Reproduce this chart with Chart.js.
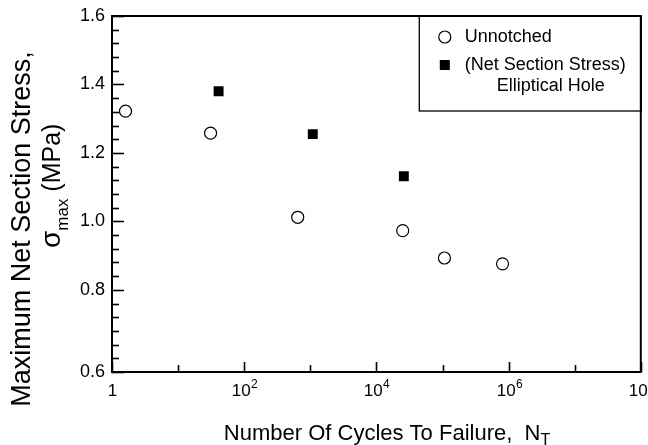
<!DOCTYPE html>
<html lang="en">
<head>
  <meta charset="UTF-8">
  <title>Fatigue life</title>
  <script src="https://cdn.jsdelivr.net/npm/chart.js"></script>
  <style>
    html, body { margin: 0; padding: 0; background: #fff; }
    #wrap { width: 648px; height: 445px; }
  </style>
</head>
<body>
  <div id="wrap"><canvas id="grafico"></canvas></div>
<script>
  // cycles to failure and max net section stress (MPa)
  var ciclosSemEntalhe = [1.6, 31, 645, 2.5e4, 1.07e5, 8.1e5]
  var tensaoSemEntalhe = [1.322, 1.258, 1.012, 0.973, 0.893, 0.876]

  var ciclosFuro = [41, 1090, 2.6e4]
  var tensaoFuro = [1.38, 1.255, 1.132]

  // axis ticks (x labels as base + exponent)
  var xTicks = [1, 10, 1e2, 1e3, 1e4, 1e5, 1e6, 1e7, 1e8]
  var xTickLabels = { 1: ['1', ''], 100: ['10', '2'], 10000: ['10', '4'], 1000000: ['10', '6'], 100000000: ['10', '8'] }
  var yMin = 0.56
  var yMax = 1.6
  var yMinorStep = 0.04
  var yLabelTicks = [0.56, 0.8, 1.0, 1.2, 1.4, 1.6]

  var FONTE = '"Liberation Sans", Arial, Helvetica, sans-serif'

  function pontos(xs, ys) {
    var lista = []
    for (var i = 0; i < xs.length; i++) {
      lista.push({ x: xs[i], y: ys[i] })
    }
    return lista
  }

  function ehRotulado(v) {
    return yLabelTicks.some(function (t) { return Math.abs(t - v) < 1e-6 })
  }

  // inward tick marks, frame, x labels, axis titles and boxed legend
  const molduraPlugin = {
    id: 'moldura',
    afterDraw(chart) {
      const ctx = chart.ctx
      const area = chart.chartArea
      const sx = chart.scales.x
      const sy = chart.scales.y

      ctx.save()
      ctx.strokeStyle = '#000'
      ctx.fillStyle = '#000'

      // ticks + power-of-ten labels on x
      ctx.lineWidth = 1.6
      sx.ticks.forEach(function (t) {
        const px = Math.round(sx.getPixelForValue(t.value)) + 0.5
        const rot = xTickLabels[t.value]
        const len = rot ? 10 : 7
        ctx.beginPath()
        ctx.moveTo(px, area.bottom)
        ctx.lineTo(px, area.bottom - len)
        ctx.stroke()
        if (rot) {
          ctx.textBaseline = 'alphabetic'
          ctx.textAlign = 'left'
          ctx.font = '17px ' + FONTE
          const wb = ctx.measureText(rot[0]).width
          ctx.font = '12px ' + FONTE
          const we = rot[1] ? ctx.measureText(rot[1]).width : 0
          const x0 = px - (wb + we) / 2
          ctx.font = '17px ' + FONTE
          ctx.fillText(rot[0], x0, area.bottom + 24)
          if (rot[1]) {
            ctx.font = '12px ' + FONTE
            ctx.fillText(rot[1], x0 + wb + 0.5, area.bottom + 16)
          }
        }
      })

      // ticks on y
      sy.ticks.forEach(function (t) {
        const py = Math.round(sy.getPixelForValue(t.value)) + 0.5
        const len = ehRotulado(t.value) ? 12 : 7
        ctx.beginPath()
        ctx.moveTo(area.left, py)
        ctx.lineTo(area.left + len, py)
        ctx.stroke()
      })

      // frame
      ctx.lineWidth = 2
      ctx.strokeRect(area.left, area.top, area.right - area.left, area.bottom - area.top)

      ctx.textBaseline = 'alphabetic'

      // x title with subscript
      const tx1 = 'Number Of Cycles To Failure,  N'
      const tx2 = 'T'
      ctx.font = '22px ' + FONTE
      const w1 = ctx.measureText(tx1).width
      ctx.font = '16px ' + FONTE
      const w2 = ctx.measureText(tx2).width
      const inicio = 387 - (w1 + w2) / 2
      ctx.font = '22px ' + FONTE
      ctx.textAlign = 'left'
      ctx.fillText(tx1, inicio, 440)
      ctx.font = '16px ' + FONTE
      ctx.fillText(tx2, inicio + w1, 445)

      // y title, two lines, rotated
      ctx.save()
      ctx.translate(30, 229)
      ctx.rotate(-Math.PI / 2)
      ctx.font = '27px ' + FONTE
      ctx.textAlign = 'center'
      ctx.fillText('Maximum Net Section Stress,', 0, 0)
      ctx.restore()

      ctx.save()
      ctx.translate(60, 248)
      ctx.rotate(-Math.PI / 2)
      ctx.textAlign = 'left'
      ctx.font = '28px ' + FONTE
      const ws = ctx.measureText('σ').width
      ctx.fillText('σ', 0, 0)
      ctx.font = '17px ' + FONTE
      const wm = ctx.measureText('max').width
      ctx.fillText('max', ws, 8)
      ctx.font = '25px ' + FONTE
      ctx.fillText(' (MPa)', ws + wm, 0)
      ctx.restore()

      // legend box
      const lx = area.right - 222
      const ly = area.top
      ctx.lineWidth = 1.3
      ctx.strokeRect(lx + 0.5, ly, 222, 95)

      const ds = chart.data.datasets
      ctx.font = '18px ' + FONTE
      ctx.textAlign = 'left'
      ctx.textBaseline = 'middle'

      ctx.beginPath()
      ctx.arc(lx + 26, ly + 21, 6, 0, Math.PI * 2)
      ctx.fillStyle = '#fff'
      ctx.fill()
      ctx.lineWidth = 1.2
      ctx.stroke()
      ctx.fillStyle = '#000'
      ctx.fillText(ds[0].label, lx + 46, ly + 21)

      ctx.fillRect(lx + 21, ly + 44, 10, 10)
      ctx.fillText(ds[1].label[0], lx + 46, ly + 49)
      ctx.fillText(ds[1].label[1], lx + 78, ly + 70)

      ctx.restore()
    }
  }

  const dados = {
    datasets: [{
      label: 'Unnotched',
      data: pontos(ciclosSemEntalhe, tensaoSemEntalhe),
      pointStyle: 'circle',
      pointRadius: 6,
      pointBackgroundColor: '#fff',
      pointBorderColor: '#000',
      pointBorderWidth: 1.2,
      showLine: false
    }, {
      label: ['(Net Section Stress)', 'Elliptical Hole'],
      data: pontos(ciclosFuro, tensaoFuro),
      pointStyle: 'rect',
      pointRadius: 7,
      pointBackgroundColor: '#000',
      pointBorderColor: '#000',
      pointBorderWidth: 0,
      showLine: false
    }]
  }

  const config = {
    type: 'scatter',
    data: dados,
    options: {
      responsive: true,
      maintainAspectRatio: false,
      animation: false,
      layout: { padding: { top: 16, right: 7, left: 0, bottom: 0 } },
      plugins: {
        legend: { display: false },
        tooltip: { enabled: false }
      },
      scales: {
        x: {
          type: 'logarithmic',
          min: 1,
          max: 1e8,
          grid: { display: false, drawTicks: false },
          border: { display: false },
          afterBuildTicks: function (s) {
            s.ticks = xTicks.map(function (v) { return { value: v } })
          },
          afterFit: function (s) {
            s.height = 73
            s.paddingLeft = 0
            s.paddingRight = 0
          },
          ticks: { display: false }
        },
        y: {
          type: 'linear',
          min: yMin,
          max: yMax,
          grid: { display: false, drawTicks: false },
          border: { display: false },
          afterBuildTicks: function (s) {
            const lista = []
            for (let v = yMin; v <= yMax + 1e-6; v += yMinorStep) {
              lista.push({ value: Math.round(v * 100) / 100 })
            }
            s.ticks = lista
          },
          afterFit: function (s) {
            s.width = 112
            s.paddingTop = 0
            s.paddingBottom = 0
          },
          ticks: {
            autoSkip: false,
            padding: 7,
            color: '#000',
            font: { family: FONTE, size: 18 },
            callback: function (v) { return ehRotulado(v) ? v.toFixed(1) : '' }
          }
        }
      }
    },
    plugins: [molduraPlugin]
  }

  const myChart = new Chart(document.getElementById('grafico'), config)
</script>
</body>
</html>
